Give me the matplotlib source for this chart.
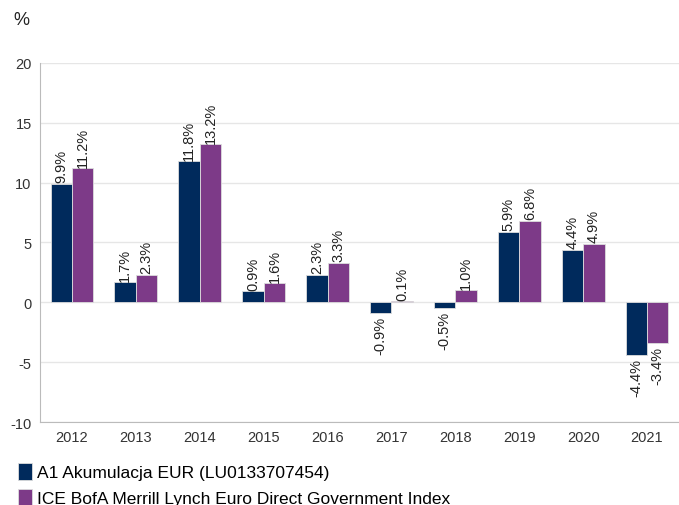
import matplotlib
matplotlib.use("Agg")
import matplotlib.pyplot as plt
import numpy as np

plt.rcParams['font.family'] = ['Liberation Sans', 'DejaVu Sans']
plt.rcParams['axes.unicode_minus'] = False

years = ['2012', '2013', '2014', '2015', '2016', '2017', '2018', '2019', '2020', '2021']
fund = [9.9, 1.7, 11.8, 0.9, 2.3, -0.9, -0.5, 5.9, 4.4, -4.4]
index = [11.2, 2.3, 13.2, 1.6, 3.3, 0.1, 1.0, 6.8, 4.9, -3.4]
fund_name = 'A1 Akumulacja EUR (LU0133707454)'
index_name = 'ICE BofA Merrill Lynch Euro Direct Government Index'

navy = '#002a5c'
purple = '#7d3a88'

fig = plt.figure(figsize=(6.79, 5.06), dpi=100)
ax = fig.add_axes([0.059, 0.164, 0.941, 0.71])

x = np.arange(len(years))
w = 0.335
b1 = ax.bar(x - w / 2, fund, w, color=navy, edgecolor='#dddddd', linewidth=0.6, label=fund_name, zorder=3)
b2 = ax.bar(x + w / 2, index, w, color=purple, edgecolor='#dddddd', linewidth=0.6, label=index_name, zorder=3)

for bars, vals in [(b1, fund), (b2, index)]:
    for rect, v in zip(bars, vals):
        cx = rect.get_x() + rect.get_width() / 2
        if v >= 0:
            ax.annotate(f'{v:.1f}%', (cx, v), xytext=(0, 1), textcoords='offset points',
                        rotation=90, ha='center', va='bottom', fontsize=10.5, color='#222222')
        else:
            ax.annotate(f'{v:.1f}%', (cx, v), xytext=(0, -2), textcoords='offset points',
                        rotation=90, ha='center', va='top', fontsize=10.5, color='#222222')

ax.set_xlim(-0.5, 9.5)
ax.set_ylim(-10, 20)
ax.set_yticks([-10, -5, 0, 5, 10, 15, 20])
ax.set_xticks(x)
ax.set_xticklabels(years)
ax.tick_params(length=0, labelsize=10.5, colors='#333333')
ax.tick_params(axis='y', pad=6)
ax.tick_params(axis='x', pad=6)
ax.grid(axis='y', color='#e6e6e6', linewidth=1, zorder=0)
ax.set_axisbelow(True)
for s in ['top', 'right']:
    ax.spines[s].set_visible(False)
for s in ['left', 'bottom']:
    ax.spines[s].set_color('#bbbbbb')

fig.text(0.019, 0.96, '%', fontsize=13, color='#222222', va='center')

fig.legend(handles=[b1, b2], loc='upper left', bbox_to_anchor=(0.026, 0.083),
           frameon=False, fontsize=12.5, handlelength=0.85, handleheight=1.1,
           handletextpad=0.25, labelspacing=0.5, borderaxespad=0, borderpad=0)

fig.savefig('out.png', dpi=100)
